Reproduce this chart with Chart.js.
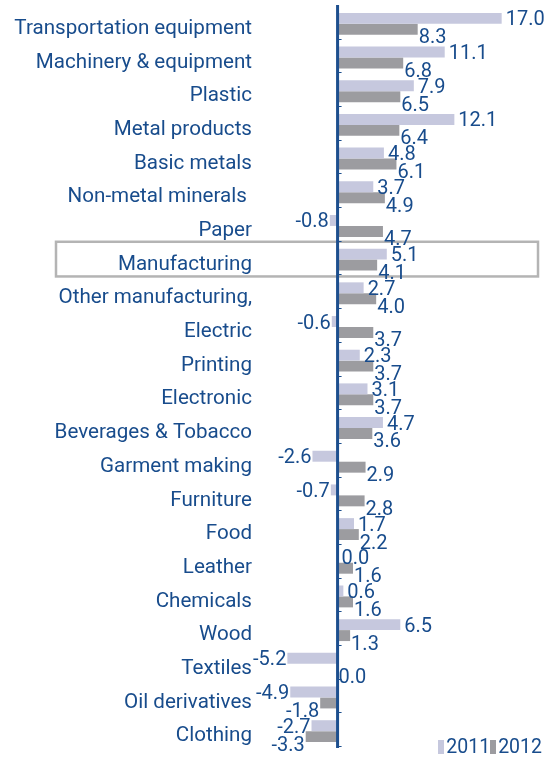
<!DOCTYPE html>
<html>
<head>
<meta charset="utf-8">
<script src="https://cdn.jsdelivr.net/npm/chart.js@4.4.1/dist/chart.umd.min.js"></script>
<style>
  body { margin: 0; background: #fff; }
  #wrap { position: relative; width: 552px; height: 758px; }
  #legend {
    position: absolute; top: 737px; right: 10px;
    display: flex; align-items: center;
    font: 19.5px Roboto, sans-serif; line-height: 19px; color: #184c8c;
  }
  #legend span.sw { display: inline-block; width: 6px; height: 14px; margin-right: 2px; }
</style>
</head>
<body>
<div id="wrap">
  <canvas id="chart" width="552" height="758"></canvas>
  <div id="legend"></div>
</div>
<script>
const categories = [
    "Transportation equipment", "Machinery & equipment", "Plastic", "Metal products",
    "Basic metals", "Non-metal minerals ", "Paper", "Manufacturing",
    "Other manufacturing,", "Electric", "Printing", "Electronic",
    "Beverages & Tobacco", "Garment making", "Furniture", "Food",
    "Leather", "Chemicals", "Wood", "Textiles", "Oil derivatives", "Clothing"
];
const growth2011 = [17.0, 11.1, 7.9, 12.1, 4.8, 3.7, -0.8, 5.1, 2.7, -0.6, 2.3, 3.1, 4.7, -2.6, -0.7, 1.7, 0.0, 0.6, 6.5, -5.2, -4.9, -2.7];
const growth2012 = [8.3, 6.8, 6.5, 6.4, 6.1, 4.9, 4.7, 4.1, 4.0, 3.7, 3.7, 3.7, 3.6, 2.9, 2.8, 2.2, 1.6, 1.6, 1.3, 0.0, -1.8, -3.3];
const seriesNames = ["2011", "2012"];

const blue = "#184c8c";
const barColors = ["#c6c8de", "#9c9ca0"];
const highlight = "Manufacturing";

// vertical nudge of value labels per series
const labelDy = [2, 9];
const labelGap = [4, 1];

const extras = {
    id: "extras",
    beforeDatasetsDraw(chart) {
        const ctx = chart.ctx, y = chart.scales.y;
        const band = (y.bottom - y.top) / categories.length;
        const cy = y.getPixelForValue(categories.indexOf(highlight));
        ctx.save();
        ctx.strokeStyle = "#b4b4b4";
        ctx.lineWidth = 2.5;
        ctx.strokeRect(56, cy - band / 2 - 1, chart.chartArea.right - 10 - 56, band + 1);
        ctx.restore();
    },
    afterDatasetsDraw(chart) {
        const ctx = chart.ctx, x = chart.scales.x, y = chart.scales.y;
        const x0 = x.getPixelForValue(0);
        const band = (y.bottom - y.top) / categories.length;
        ctx.save();

        // zero axis with small ticks between categories
        ctx.strokeStyle = "#1d4f8e";
        ctx.lineWidth = 3;
        ctx.beginPath();
        ctx.moveTo(x0, y.top - 2);
        ctx.lineTo(x0, y.bottom);
        ctx.stroke();
        ctx.lineWidth = 1.2;
        ctx.beginPath();
        for (let k = 1; k <= categories.length; k++) {
            const yy = Math.round(y.top + k * band - 2) + 0.5;
            ctx.moveTo(x0, yy);
            ctx.lineTo(x0 + 4, yy);
        }
        ctx.stroke();

        // value labels
        ctx.fillStyle = blue;
        ctx.font = "20px Roboto, sans-serif";
        ctx.textBaseline = "middle";
        chart.data.datasets.forEach((ds, d) => {
            chart.getDatasetMeta(d).data.forEach((bar, i) => {
                const v = ds.data[i];
                const txt = v.toFixed(1);
                if (v >= 0) {
                    ctx.textAlign = "left";
                    ctx.fillText(txt, bar.x + labelGap[d], bar.y + labelDy[d]);
                } else {
                    ctx.textAlign = "right";
                    ctx.fillText(txt, bar.x - 1, bar.y + labelDy[d]);
                }
            });
        });
        ctx.restore();
    }
};

new Chart(document.getElementById("chart"), {
    type: "bar",
    data: {
        labels: categories,
        datasets: [
            { label: seriesNames[0], data: growth2011, backgroundColor: barColors[0] },
            { label: seriesNames[1], data: growth2012, backgroundColor: barColors[1] }
        ]
    },
    options: {
        indexAxis: "y",
        responsive: false,
        animation: false,
        devicePixelRatio: 1,
        layout: { padding: { top: 7, bottom: 10, left: 0, right: 4 } },
        datasets: { bar: { barPercentage: 1, categoryPercentage: 0.65, borderWidth: 0 } },
        plugins: { legend: { display: false }, tooltip: { enabled: false } },
        scales: {
            x: { display: false, min: -8.45, max: 21.8 },
            y: {
                grid: { display: false, drawTicks: false },
                border: { display: false },
                ticks: {
                    color: blue,
                    padding: 4,
                    labelOffset: 5,
                    font: { family: "Roboto", size: 20.6 }
                },
                afterFit(scale) {
                    scale.width = 256;
                    scale.paddingTop = 0;
                    scale.paddingBottom = 0;
                }
            }
        }
    },
    plugins: [extras]
});

// legend
const legend = document.getElementById("legend");
seriesNames.forEach((name, i) => {
    legend.innerHTML += `<span class="sw" style="background:${barColors[i]}"></span><span>${name}</span>`;
});
</script>
</body>
</html>
